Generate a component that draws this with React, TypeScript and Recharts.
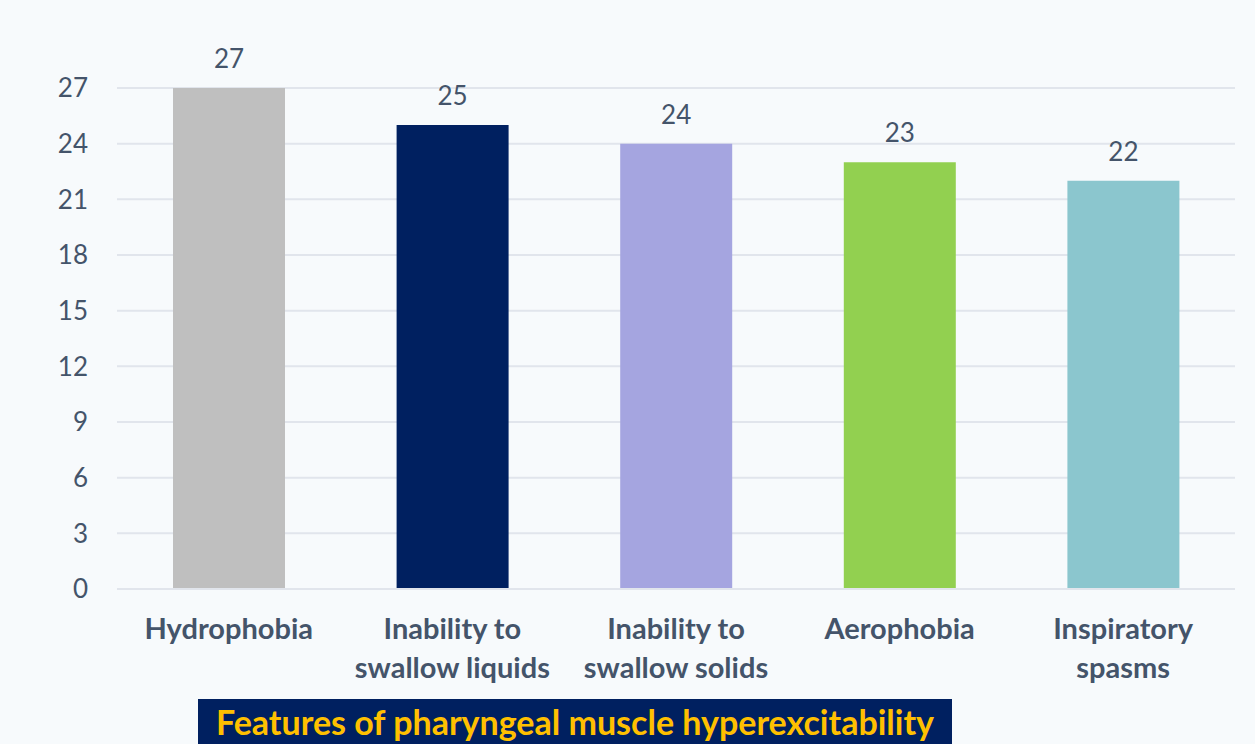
import React from "react";
import { BarChart, Bar, XAxis, YAxis, CartesianGrid, LabelList, Cell } from "recharts";

// Features of pharyngeal muscle hyperexcitability — patient counts
const categories: string[] = [
  "Hydrophobia",
  "Inability to\nswallow liquids",
  "Inability to\nswallow solids",
  "Aerophobia",
  "Inspiratory\nspasms",
];
const counts: number[] = [27, 25, 24, 23, 22];
const barColors: string[] = ["#bfbfbf", "#002060", "#a5a5e0", "#92d050", "#8bc6ce"];
const yTicks: number[] = [0, 3, 6, 9, 12, 15, 18, 21, 24, 27];
const chartTitle = "Features of pharyngeal muscle hyperexcitability";

const data = categories.map((name, i) => ({ name, value: counts[i] }));

const FONT = "Lato, 'Open Sans', sans-serif";
const TEXT = "#44546a";

const CategoryTick = (props: any) => {
  const { x, y, payload } = props;
  const lines = String(payload.value).split("\n");
  return (
    <text
      x={x}
      y={y}
      textAnchor="middle"
      fill={TEXT}
      fontFamily={FONT}
      fontWeight={700}
      fontSize={29}
    >
      {lines.map((ln, i) => (
        <tspan key={i} x={x} dy={i === 0 ? 50 : 39}>
          {ln}
        </tspan>
      ))}
    </text>
  );
};

export default function App() {
  return (
    <div
      style={{
        position: "absolute",
        left: 0,
        top: 0,
        width: 1255,
        height: 744,
        background: "#f7fafc",
        overflow: "hidden",
      }}
    >
      <BarChart
        width={1255}
        height={744}
        data={data}
        margin={{ top: 88, right: 20, bottom: 55, left: 0 }}
        barCategoryGap="25%"
      >
        <CartesianGrid vertical={false} stroke="#e1e5ec" strokeWidth={2} />
        <XAxis
          dataKey="name"
          axisLine={{ stroke: "#e1e5ec", strokeWidth: 2 }}
          tickLine={false}
          tickSize={0}
          tickMargin={0}
          height={100}
          interval={0}
          tick={<CategoryTick />}
        />
        <YAxis
          domain={[0, 27]}
          ticks={yTicks}
          width={117}
          axisLine={false}
          tickLine={false}
          tickSize={0}
          tickMargin={29}
          tick={{ fill: TEXT, fontSize: 26, fontFamily: FONT }}
        />
        <Bar dataKey="value" isAnimationActive={false} barSize={112}>
          {data.map((d, i) => (
            <Cell key={d.name} fill={barColors[i]} />
          ))}
          <LabelList
            dataKey="value"
            position="top"
            offset={20}
            fill={TEXT}
            fontSize={26}
            fontFamily={FONT}
          />
        </Bar>
      </BarChart>
      <div
        style={{
          position: "absolute",
          left: 198,
          top: 699,
          width: 754,
          height: 60,
          background: "#002060",
          color: "#ffc000",
          fontFamily: FONT,
          fontWeight: 700,
          fontSize: 34,
          lineHeight: "46px",
          textAlign: "center",
          whiteSpace: "nowrap",
        }}
      >
        {chartTitle}
      </div>
    </div>
  );
}
